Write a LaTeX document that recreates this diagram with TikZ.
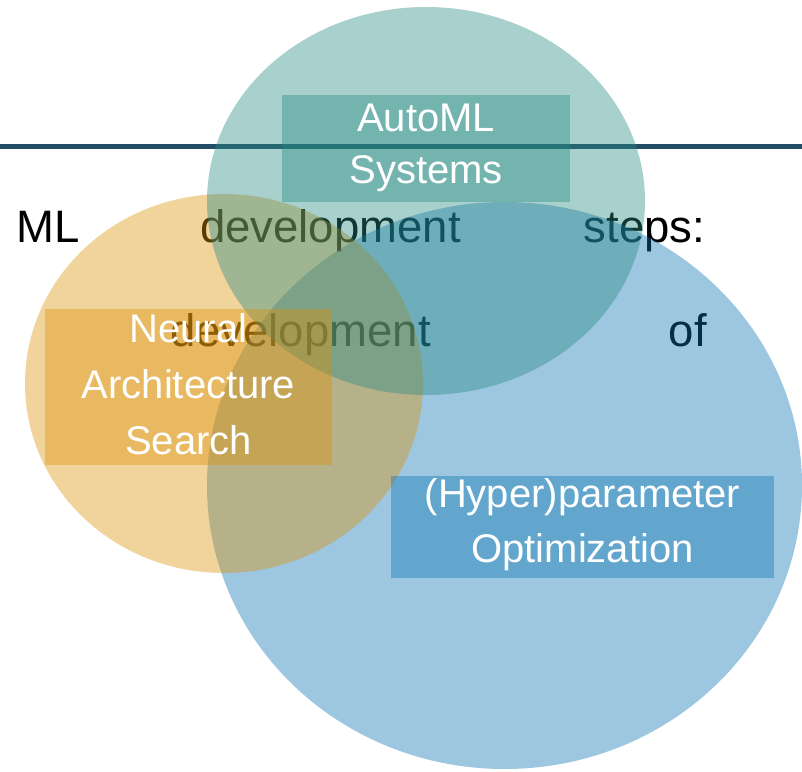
\documentclass[tikz,border=0pt]{standalone}
\usepackage{fontspec}
\setmainfont{Liberation Sans}
\definecolor{tealc}{RGB}{38,138,130}
\definecolor{bluec}{RGB}{10,115,178}
\definecolor{orangec}{RGB}{220,145,8}
\definecolor{linec}{RGB}{35,78,102}
\tikzset{
  word/.style={anchor=base west, inner sep=0pt, font=\fontsize{45.5}{54}\selectfont, text=black},
  boxbase/.style={rectangle, inner sep=0pt, fill opacity=0.4, draw=none},
  boxtext/.style={inner sep=0pt, align=center, text=white},
  blob/.style={fill opacity=0.4}
}
\begin{document}
\begin{tikzpicture}[x=1pt,y=-1pt]
\useasboundingbox (0,0) rectangle (802,771);
% horizontal rule
\coordinate (lineL) at (0,146);
\coordinate (lineR) at (802,146);
\draw[linec, line width=5pt] (lineL) -- (lineR);
% background text
\node[word] (w1) at (16.5,242) {ML};
\node[word] (w2) at (200,242) {development};
\node[word] (w3) at (583.5,242) {steps:};
\node[word] (w4) at (170,346) {development};
\node[word] (w5) at (668.5,346) {of};
% circles
\fill[bluec, blob] (504.5,485.5) ellipse [x radius=297.5, y radius=283.5];
\fill[orangec, blob] (224,383.5) ellipse [x radius=199, y radius=189.5];
\fill[tealc, blob] (426,201) ellipse [x radius=219, y radius=194];
% boxes
\node[boxbase, fill=tealc, minimum width=288pt, minimum height=107pt] (automl) at (426,148.5) {};
\node[boxbase, fill=orangec, minimum width=287pt, minimum height=156pt] (nas) at (188.5,387) {};
\node[boxbase, fill=bluec, minimum width=383pt, minimum height=102pt] (hpo) at (582.5,527) {};
% box texts
\node[boxtext, font=\fontsize{40}{52}\selectfont] (automlt) at ([yshift=1pt]automl.center) {AutoML\\Systems};
\node[boxtext, font=\fontsize{40}{56}\selectfont] (nast) at ([yshift=3pt]nas.center) {Neural\\Architecture\\Search};
\node[boxtext, font=\fontsize{40}{55}\selectfont] (hpot) at ([yshift=2pt]hpo.center) {(Hyper)parameter\\Optimization};
\end{tikzpicture}
\end{document}
